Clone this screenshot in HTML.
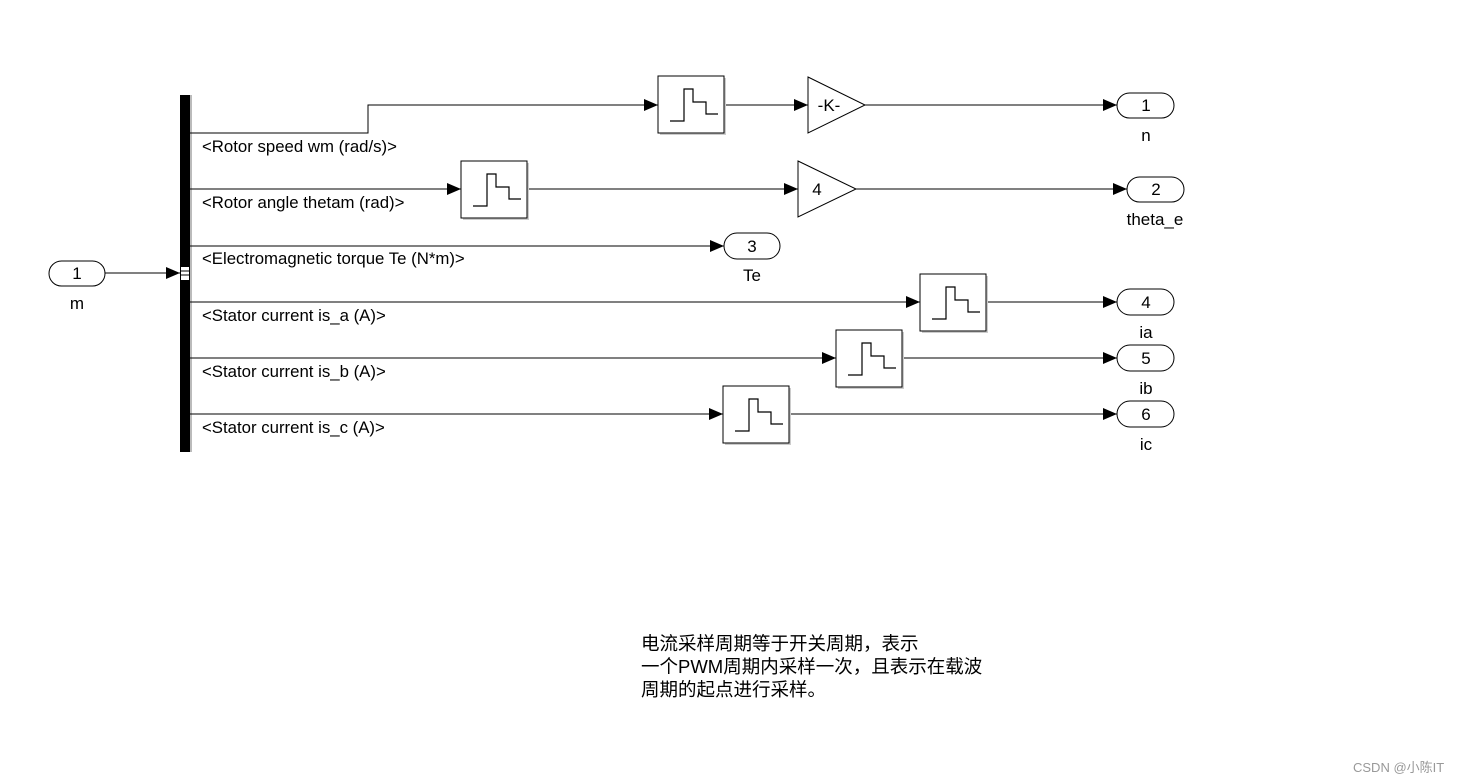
<!DOCTYPE html>
<html><head><meta charset="utf-8"><style>
html,body{margin:0;padding:0;background:#fff;}
svg{display:block;}
text{font-family:"Liberation Sans","Noto Sans CJK SC",sans-serif;fill:#000;}
</style></head><body>
<svg width="1458" height="782" viewBox="0 0 1458 782" xmlns="http://www.w3.org/2000/svg">
<defs>
<marker id="a" markerWidth="14" markerHeight="12" refX="14" refY="6" orient="auto" markerUnits="userSpaceOnUse">
<path d="M0,0 L14,6 L0,12 Z" fill="#000"/></marker>
<g id="zoh">
<rect x="2" y="2" width="66" height="57" fill="#ccc"/>
<rect x="0" y="0" width="66" height="57" fill="#fff" stroke="#000" stroke-width="1"/>
<polyline points="12,45 26,45 26,13 35,13 35,26 48,26 48,38 60,38" fill="none" stroke="#000" stroke-width="1.2"/>
</g>
</defs>
<g stroke="#000" stroke-width="1" fill="none">
<rect x="180" y="95" width="10" height="357" fill="#000" stroke="none"/>
<rect x="190" y="95" width="2" height="357" fill="#bbb" stroke="none"/>
<rect x="181" y="267" width="8" height="13" fill="#fff" stroke="none"/>
<line x1="181" y1="271" x2="189" y2="271" stroke="#000"/>
<line x1="181" y1="275" x2="189" y2="275" stroke="#000"/>
<line x1="105" y1="273" x2="180" y2="273" marker-end="url(#a)"/>
<polyline points="190,133 368,133 368,105 658,105" marker-end="url(#a)"/>
<line x1="724" y1="105" x2="808" y2="105" marker-end="url(#a)"/>
<line x1="865" y1="105" x2="1117" y2="105" marker-end="url(#a)"/>
<line x1="190" y1="189" x2="461" y2="189" marker-end="url(#a)"/>
<line x1="527" y1="189" x2="798" y2="189" marker-end="url(#a)"/>
<line x1="856" y1="189" x2="1127" y2="189" marker-end="url(#a)"/>
<line x1="190" y1="246" x2="724" y2="246" marker-end="url(#a)"/>
<line x1="190" y1="302" x2="920" y2="302" marker-end="url(#a)"/>
<line x1="986" y1="302" x2="1117" y2="302" marker-end="url(#a)"/>
<line x1="190" y1="358" x2="836" y2="358" marker-end="url(#a)"/>
<line x1="902" y1="358" x2="1117" y2="358" marker-end="url(#a)"/>
<line x1="190" y1="414" x2="723" y2="414" marker-end="url(#a)"/>
<line x1="789" y1="414" x2="1117" y2="414" marker-end="url(#a)"/>
<polygon points="808,77 865,105 808,133" fill="#fff"/>
<polygon points="798,161 856,189 798,217" fill="#fff"/>
<rect x="49" y="261" width="56" height="25" rx="12.5" fill="#fff"/>
<rect x="1117" y="93" width="57" height="25" rx="12.5" fill="#fff"/>
<rect x="1127" y="177" width="57" height="25" rx="12.5" fill="#fff"/>
<rect x="724" y="233" width="56" height="26" rx="13" fill="#fff"/>
<rect x="1117" y="289" width="57" height="26" rx="13" fill="#fff"/>
<rect x="1117" y="345" width="57" height="26" rx="13" fill="#fff"/>
<rect x="1117" y="401" width="57" height="26" rx="13" fill="#fff"/>
</g>
<use href="#zoh" x="658" y="76"/>
<use href="#zoh" x="461" y="161"/>
<use href="#zoh" x="920" y="274"/>
<use href="#zoh" x="836" y="330"/>
<use href="#zoh" x="723" y="386"/>
<g font-size="17" text-anchor="middle">
<text x="829" y="111">-K-</text>
<text x="817" y="195">4</text>
<text x="77" y="279">1</text>
<text x="77" y="309">m</text>
<text x="1146" y="111">1</text>
<text x="1146" y="141">n</text>
<text x="1156" y="195">2</text>
<text x="1155" y="225">theta_e</text>
<text x="752" y="252">3</text>
<text x="752" y="281">Te</text>
<text x="1146" y="308">4</text>
<text x="1146" y="338">ia</text>
<text x="1146" y="364">5</text>
<text x="1146" y="394">ib</text>
<text x="1146" y="420">6</text>
<text x="1146" y="450">ic</text>
</g>
<g font-size="16.8">
<text x="202" y="152">&lt;Rotor speed wm (rad/s)&gt;</text>
<text x="202" y="208">&lt;Rotor angle thetam (rad)&gt;</text>
<text x="202" y="264">&lt;Electromagnetic torque Te (N*m)&gt;</text>
<text x="202" y="321">&lt;Stator current is_a (A)&gt;</text>
<text x="202" y="377">&lt;Stator current is_b (A)&gt;</text>
<text x="202" y="433">&lt;Stator current is_c (A)&gt;</text>
</g>
<g font-size="18.5">
<text x="641" y="650">电流采样周期等于开关周期，表示</text>
<text x="641" y="673">一个PWM周期内采样一次，且表示在载波</text>
<text x="641" y="696">周期的起点进行采样。</text>
</g>
<text x="1353" y="772" font-size="13" style="fill:#999">CSDN @小陈IT</text>
</svg>
</body></html>
